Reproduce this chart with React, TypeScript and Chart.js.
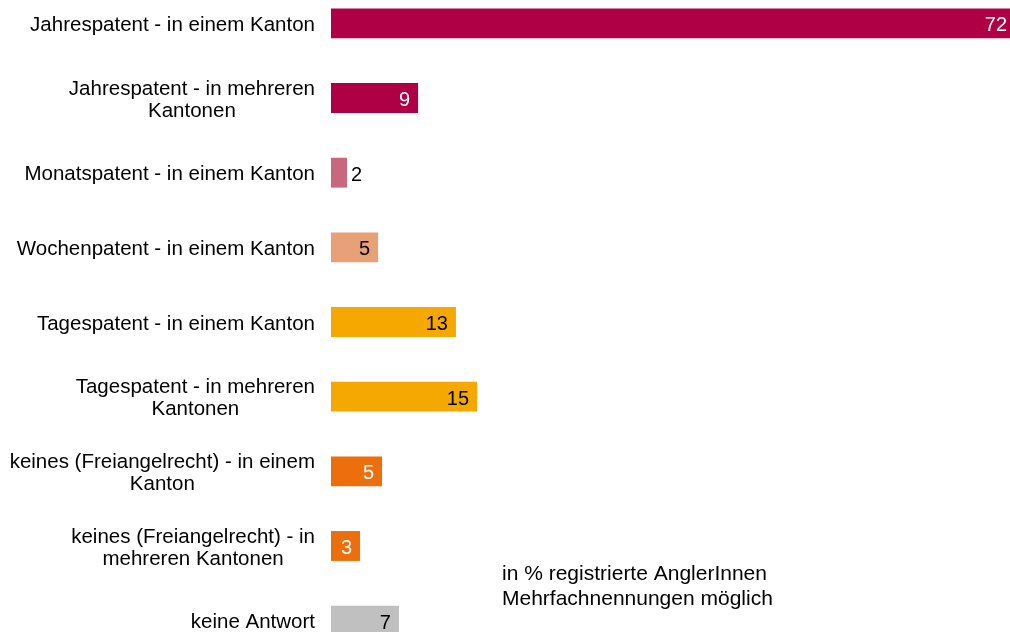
import React, { useEffect, useRef } from "react";
import { Chart, registerables } from "chart.js";

Chart.register(...registerables);

const categories: string[][] = [
  ["Jahrespatent - in einem Kanton"],
  ["Jahrespatent - in mehreren", "Kantonen"],
  ["Monatspatent - in einem Kanton"],
  ["Wochenpatent - in einem Kanton"],
  ["Tagespatent - in einem Kanton"],
  ["Tagespatent - in mehreren", "Kantonen"],
  ["keines (Freiangelrecht) - in einem", "Kanton"],
  ["keines (Freiangelrecht) - in", "mehreren Kantonen"],
  ["keine Antwort"],
];

const values: number[] = [72, 8.99, 1.65, 4.86, 12.9, 15.08, 5.27, 3.0, 7.02];

const barColors: string[] = [
  "#B00045",
  "#B00045",
  "#C9677E",
  "#E8A076",
  "#F5A800",
  "#F5A800",
  "#EC6E0C",
  "#EC6E0C",
  "#C0C0C0",
];

const valueLabelColors: string[] = [
  "#ffffff",
  "#ffffff",
  "#000000",
  "#000000",
  "#000000",
  "#000000",
  "#ffffff",
  "#ffffff",
  "#000000",
];

const noteLines: string[] = [
  "in % registrierte AnglerInnen",
  "Mehrfachnennungen möglich",
];

const FONT = '"Liberation Sans", Arial, sans-serif';

const labelsPlugin = {
  id: "customLabels",
  afterDatasetsDraw(chart: any) {
    const ctx = chart.ctx as CanvasRenderingContext2D;
    const yScale = chart.scales.y;
    const xScale = chart.scales.x;
    const area = chart.chartArea;
    ctx.save();
    // category labels
    ctx.font = `20.5px ${FONT}`;
    ctx.fillStyle = "#000000";
    ctx.textBaseline = "middle";
    const rightEdge = area.left - 16;
    const lineH = 22;
    categories.forEach((lines, i) => {
      const cy = yScale.getPixelForValue(i) + 2;
      const widths = lines.map((l) => ctx.measureText(l).width);
      const widest = Math.max(...widths);
      const blockCenter = rightEdge - widest / 2;
      ctx.textAlign = "center";
      lines.forEach((l, j) => {
        const y = cy + (j - (lines.length - 1) / 2) * lineH;
        ctx.fillText(l, blockCenter, y);
      });
    });
    // value labels
    ctx.font = `20px ${FONT}`;
    const meta = chart.getDatasetMeta(0);
    values.forEach((v, i) => {
      const bar = meta.data[i];
      const cy = bar.y + 2.5;
      const x0 = xScale.getPixelForValue(0);
      let xe = xScale.getPixelForValue(v);
      const txt = String(Math.round(v));
      if (xe - x0 < 25) {
        ctx.textAlign = "left";
        ctx.fillStyle = "#000000";
        ctx.fillText(txt, xe + 4, cy);
      } else {
        xe = Math.min(xe, area.right - 3 + 8);
        ctx.textAlign = "right";
        ctx.fillStyle = valueLabelColors[i];
        ctx.fillText(txt, xe - 8, cy);
      }
    });
    // note
    ctx.font = `21px ${FONT}`;
    ctx.fillStyle = "#000000";
    ctx.textAlign = "left";
    const nx = area.left + 171;
    const ny = yScale.getPixelForValue(7) + 28;
    noteLines.forEach((l, j) => {
      ctx.fillText(l, nx, ny + j * 25);
    });
    ctx.restore();
  },
};

export default function App() {
  const ref = useRef<HTMLCanvasElement | null>(null);
  useEffect(() => {
    if (!ref.current) return;
    const chart = new Chart(ref.current, {
      type: "bar",
      data: {
        labels: categories.map((c) => c.join(" ")),
        datasets: [
          {
            data: values,
            backgroundColor: barColors,
            borderWidth: 0,
            categoryPercentage: 1,
            barPercentage: 0.4,
          },
        ],
      },
      options: {
        indexAxis: "y",
        animation: false,
        responsive: false,
        maintainAspectRatio: false,
        layout: { padding: { left: 331, right: 0, top: 0, bottom: 0 } },
        plugins: {
          legend: { display: false },
          tooltip: { enabled: false },
          title: { display: false },
        },
        scales: {
          x: { display: false, min: 0, max: 70.1 },
          y: { display: false },
        },
      },
      plugins: [labelsPlugin],
    });
    return () => chart.destroy();
  }, []);
  return (
    <div
      style={{
        position: "fixed",
        left: 0,
        top: -14,
        width: 1010,
        height: 672,
        background: "#ffffff",
      }}
    >
      <canvas ref={ref} width={1010} height={672} style={{ display: "block" }} />
    </div>
  );
}
